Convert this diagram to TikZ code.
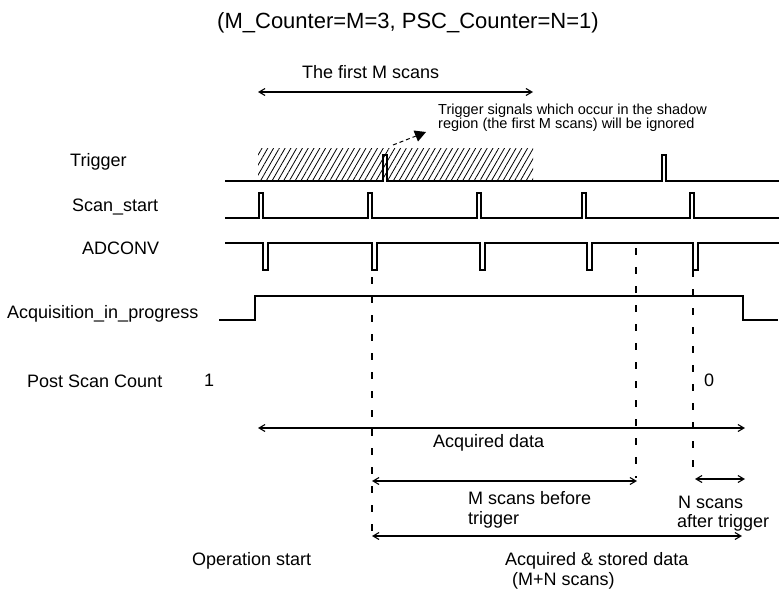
\documentclass[tikz,border=0pt]{standalone}
\usepackage{fontspec}
\setmainfont{Liberation Sans}
\usetikzlibrary{arrows.meta,patterns.meta}
\begin{document}
\begin{tikzpicture}[x=1pt,y=-1pt,
  sig/.style={line width=1.3pt, line join=miter},
  vguide/.style={line width=1.3pt, dash pattern=on 7pt off 12pt},
  span/.style={line width=1.1pt, {Straight Barb[length=6pt,width=7pt]}-{Straight Barb[length=6pt,width=7pt]}},
  lbl/.style={anchor=base west, inner sep=0pt, font=\fontsize{18}{21}\selectfont},
  small/.style={anchor=base west, inner sep=0pt, font=\fontsize{14.5}{16}\selectfont},
  hatch/.style={pattern={Lines[angle=60,distance=5pt,line width=0.8pt]}}]
\useasboundingbox (0,0) rectangle (779,592);

% title and top span
\node[anchor=base, inner sep=0pt, font=\fontsize{22}{25}\selectfont] (title) at (408,28) {(M\_Counter=M=3, PSC\_Counter=N=1)};
\node[lbl] (firstm) at (302,78) {The first M scans};
\coordinate (fm1) at (258,92);
\coordinate (fm2) at (533,92);
\draw[span] (fm1) -- (fm2);

% annotation
\node[small] (note1) at (438,114) {Trigger signals which occur in the shadow};
\node[small] (note2) at (438,128) {region (the first M scans) will be ignored};
\coordinate (na) at (393,145);
\coordinate (nm) at (416,136);
\coordinate (nb) at (426,132);
\draw[line width=1pt, dash pattern=on 4pt off 3pt] (na) -- (nm);
\fill (nb) -- (418,141.5) -- (413.5,130.5) -- cycle;

% shadow region
\fill[hatch] (258,148) rectangle (533,181);

% signal labels
\node[lbl] (ltrig) at (70,166) {Trigger};
\node[lbl] (lscan) at (72,211) {Scan\_start};
\node[lbl] (ladc) at (82,254) {ADCONV};
\node[lbl] (lacq) at (7,318) {Acquisition\_in\_progress};
\node[lbl] (lpsc) at (27,387) {Post Scan Count};
\node[lbl] (one) at (204,386) {1};
\node[lbl] (zero) at (704,386) {0};

% Trigger
\draw[sig] (225,181) -- (383,181) -- (383,155) -- (387,155) -- (387,181)
  -- (662,181) -- (662,155) -- (666,155) -- (666,181) -- (779,181);

% Scan_start
\draw[sig] (225,218)
  -- (259,218) -- (259,193) -- (263,193) -- (263,218)
  -- (368,218) -- (368,193) -- (372,193) -- (372,218)
  -- (477,218) -- (477,193) -- (481,193) -- (481,218)
  -- (582,218) -- (582,193) -- (586,193) -- (586,218)
  -- (690,218) -- (690,193) -- (694,193) -- (694,218)
  -- (779,218);

% ADCONV
\draw[sig] (225,243)
  -- (263,243) -- (263,270) -- (268,270) -- (268,243)
  -- (372,243) -- (372,270) -- (377,270) -- (377,243)
  -- (480,243) -- (480,270) -- (485,270) -- (485,243)
  -- (587,243) -- (587,270) -- (592,270) -- (592,243)
  -- (693,243) -- (693,270) -- (698,270) -- (698,243)
  -- (779,243);

% Acquisition_in_progress
\draw[sig] (219,320) -- (255,320) -- (255,296) -- (743,296) -- (743,320) -- (778,320);

% vertical guides
\coordinate (g1t) at (372,277);
\coordinate (g1b) at (372,537);
\coordinate (g2t) at (636,248);
\coordinate (g2b) at (636,478);
\coordinate (g3t) at (693,270);
\coordinate (g3b) at (693,472);
\draw[vguide] (g1t) -- (g1b);
\draw[vguide] (g2t) -- (g2b);
\draw[vguide] (g3t) -- (g3b);

% spans
\coordinate (ad1) at (258,428);
\coordinate (ad2) at (745,428);
\draw[span] (ad1) -- (ad2);
\node[lbl] (lad) at (433,447) {Acquired data};

\coordinate (ms1) at (372,481);
\coordinate (ms2) at (637,481);
\draw[span] (ms1) -- (ms2);
\node[lbl] (lms1) at (468,504) {M scans before};
\node[lbl] (lms2) at (468,524) {trigger};

\coordinate (ns1) at (695,479);
\coordinate (ns2) at (745,479);
\draw[span] (ns1) -- (ns2);
\node[lbl] (lns1) at (678,508) {N scans};
\node[lbl] (lns2) at (677,527) {after trigger};

\coordinate (as1) at (372,536);
\coordinate (as2) at (742,536);
\draw[span] (as1) -- (as2);
\node[lbl] (las1) at (505,565) {Acquired \& stored data};
\node[lbl] (las2) at (512,585) {(M+N scans)};

\node[lbl] (lop) at (192,565) {Operation start};
\end{tikzpicture}
\end{document}
